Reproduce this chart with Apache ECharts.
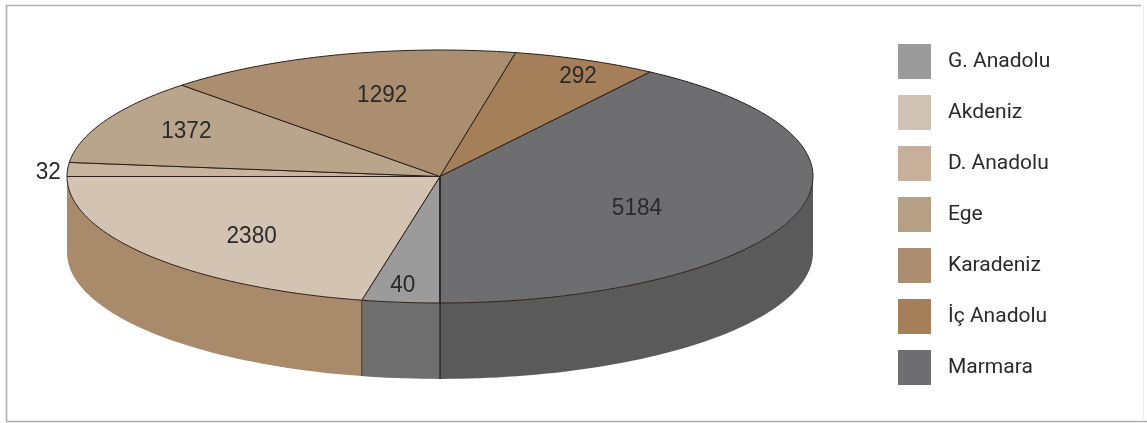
<!DOCTYPE html>
<html><head><meta charset="utf-8">
<style>html,body{margin:0;padding:0;background:#fff}#c{width:1147px;height:423px}</style>
<script src="https://cdn.jsdelivr.net/npm/echarts@6/dist/echarts.min.js"></script></head>
<body><div id="c"></div>
<script>
const regions = ['G. Anadolu','Akdeniz','D. Anadolu','Ege','Karadeniz','İç Anadolu','Marmara'];
const values = [40,2380,32,1372,1292,292,5184];
// Drawn sweep of each slice in degrees (the source's slices are not proportional to value)
const sweeps = [12.1,77.9,6.4,39.8,55.5,22.6,145.7];
const topColors = ['#9b9b9b','#d3c3b3','#c8b49f','#b9a48c','#ab8e70','#a57f5a','#6e6e70'];
const wallColors = ['#6f6f6f','#a98b6c','#a98b6c','#a98b6c','#a98b6c','#a98b6c','#5a5a5a'];
const legendColors = ['#9b9b9b','#d0c2b4','#c6b09a','#b5a085','#ab8e70','#a57f5a','#6e6e70'];

// Layout (not data): start of the first slice, wall depth in axis units, label anchors in axis units
const START_DEG = 270;
const DEPTH = 0.6;
const labelAt = [[-0.1,-0.86],[-0.505,-0.47],[-1.05,0.03],[-0.68,0.36],[-0.155,0.645],[0.37,0.79],[0.528,-0.25]];
const FONT = '"Liberation Sans",Arial,sans-serif';

const rad = d => d*Math.PI/180;
let cursor = START_DEG;
const spans = sweeps.map(s => { const a=cursor; cursor-=s; return [a,a-s]; });

function arcPts(api,a,b,off){
  const n=Math.max(2,Math.ceil(Math.abs(a-b)/1.5)), p=[];
  for(let i=0;i<=n;i++){const t=rad(a+(b-a)*i/n);p.push(api.coord([Math.cos(t),Math.sin(t)-off]));}
  return p;
}
function makeRender(idx){
  return function(params,api){
    const [a,b]=spans[idx];
    const c=api.coord([0,0]);
    const kids=[];
    // visible front wall: the part of the span in the lower half of the ellipse (either angle winding)
    [[180,360],[-180,0]].forEach(([from,to])=>{
      const hi=Math.min(a,to), lo=Math.max(b,from);
      if(hi<=lo) return;
      const upper=arcPts(api,hi,lo,0), lower=arcPts(api,lo,hi,DEPTH);
      kids.push({type:'polygon',shape:{points:upper.concat(lower)},style:{fill:wallColors[idx]}});
      if(idx===1){
        const top=upper[0], bot=lower[lower.length-1];
        kids.push({type:'line',shape:{x1:top[0],y1:top[1],x2:bot[0],y2:bot[1]},style:{stroke:'#3a3028',lineWidth:1}});
      }
    });
    const rim=arcPts(api,a,b,0);
    kids.push({type:'polygon',shape:{points:[c].concat(rim)},style:{fill:topColors[idx],stroke:'#2a2018',lineWidth:1,lineJoin:'round'}});
    const la=api.coord(labelAt[idx]);
    kids.push({type:'text',x:la[0],y:la[1],scaleX:0.94,style:{text:String(api.value(0)),fill:'#2a2a2a',font:'24px '+FONT,textAlign:'center',textVerticalAlign:'middle'},z2:10});
    return {type:'group',children:kids};
  };
}
const series = regions.map((name,i)=>({
  name,type:'custom',coordinateSystem:'cartesian2d',clip:false,silent:true,
  itemStyle:{color:legendColors[i]},
  encode:{x:1,y:2},
  data:[[values[i],0,0]],
  renderItem:makeRender(i),
  z:2+i
}));
// the black spine down the front of the disc
series.push({
  type:'custom',coordinateSystem:'cartesian2d',clip:false,silent:true,z:20,encode:{x:0,y:1},
  data:[[0,0]],
  renderItem(p,api){
    const a=api.coord([0,0]),b=api.coord([0,-1-DEPTH]);
    return {type:'line',shape:{x1:a[0],y1:a[1],x2:b[0],y2:b[1]},style:{stroke:'#1d1d1d',lineWidth:1.2}};
  }
});
const chart=echarts.init(document.getElementById('c'),null,{renderer:'canvas'});
chart.setOption({
  animation:false,backgroundColor:'#fff',
  graphic:[
    {type:'polyline',shape:{points:[[1141,5.5],[6.5,5.5],[6.5,421.5],[1147,421.5]]},style:{fill:'none',stroke:'#b0b0b0',lineWidth:1.6},z:0},
    {type:'line',shape:{x1:1143.5,y1:6,x2:1143.5,y2:421},style:{stroke:'#ececec',lineWidth:1},z:0}
  ],
  grid:{left:67,top:50,width:746,height:253,containLabel:false},
  xAxis:{type:'value',min:-1,max:1,show:false},
  yAxis:{type:'value',min:-1,max:1,show:false},
  legend:{orient:'vertical',left:898,top:44,itemWidth:33,itemHeight:35,itemGap:16,data:regions,icon:'rect',selectedMode:false,
    textStyle:{fontFamily:'Roboto',fontSize:21,color:'#2a2a2a',padding:[2,0,0,12]},padding:0},
  series
});
</script></body></html>
